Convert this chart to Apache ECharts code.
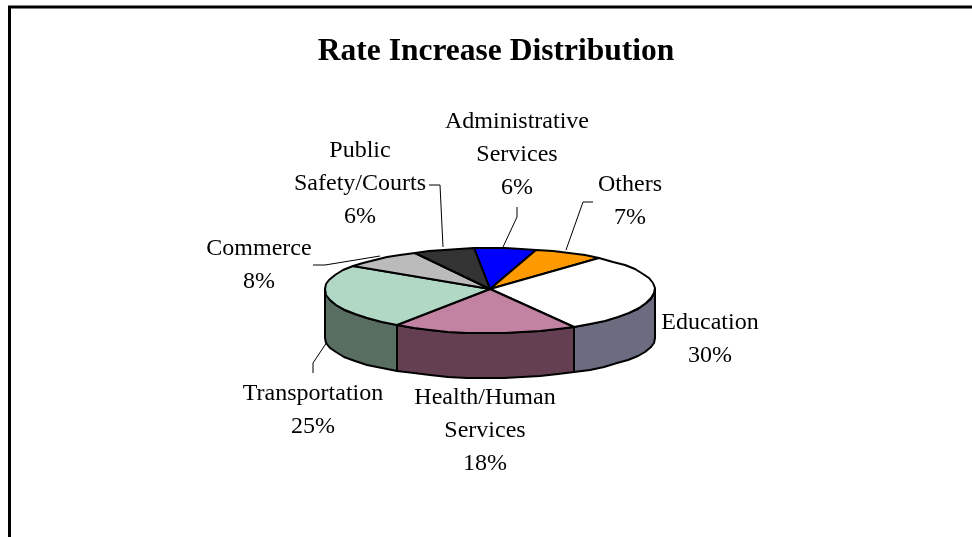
<!DOCTYPE html>
<html>
<head>
<meta charset="utf-8">
<style>html,body{margin:0;padding:0;background:#fff}#chart{width:972px;height:537px}</style>
<script src="https://cdn.jsdelivr.net/npm/echarts@6/dist/echarts.min.js"></script>
</head>
<body>
<div id="chart"></div>
<script>
// Budget shares, clockwise from the top of the pie
const categories = ['Administrative\nServices', 'Others', 'Education', 'Health/Human\nServices', 'Transportation', 'Commerce', 'Public\nSafety/Courts'];
const shares = [6, 7, 30, 18, 25, 8, 6];
const topColors = ['#0000FF', '#FF9900', '#FFFFFF', '#C283A3', '#B0D8C4', '#BBBBBB', '#333333'];
const sideColors = ['#00007F', '#7F4C00', '#6C6C80', '#643F52', '#586E60', '#5E5E5E', '#1A1A1A'];

// Pie layout in pixels: the rim is flatter behind the centre than in front of it,
// and the lower rim is a slightly flatter ellipse than the upper one
const CX = 490, CY = 289, RX = 165, RY_BACK = 41, RY_FRONT = 44;
const FLOOR_CY = 338, FLOOR_RY = 40, START = -5.5, STEP = 7;

// Label anchors and leader polylines, in the same order as the categories
const labelCenters = [[517, 121], [630, 184], [710, 322], [485, 397], [313, 393], [259, 248], [360, 150]];
const leaders = [
  [[503, 247], [517, 217], [517, 207]],
  [[566, 250], [583, 202], [593, 202]],
  null,
  null,
  [[327, 342], [313, 363], [313, 373]],
  [[380, 256], [325, 265], [313, 265]],
  [[443, 247], [440, 185], [429, 185]]
];

const FONT = '"Liberation Serif", "Times New Roman", serif';
const total = shares.reduce((a, b) => a + b, 0);

// Start and end angle (degrees clockwise from the top) of slice i
function sliceAngles(i) {
  let before = 0;
  for (let k = 0; k < i; k++) before += shares[k];
  const toAngle = v => echarts.number.linearMap(v, [0, total], [START, START + 360]);
  return [toAngle(before), toAngle(before + shares[i])];
}
function rimPoint(deg) {
  const r = deg * Math.PI / 180, c = Math.cos(r);
  return [Math.round(CX + RX * Math.sin(r)), Math.round(CY - (c > 0 ? RY_BACK : RY_FRONT) * c)];
}
function floorPoint(deg) {
  const r = deg * Math.PI / 180;
  return [Math.round(CX + RX * Math.sin(r)), Math.round(FLOOR_CY - FLOOR_RY * Math.cos(r))];
}
function arcPoints(a0, a1, pointAt) {
  const pts = [];
  const n = Math.max(1, Math.ceil((a1 - a0) / STEP));
  for (let j = 0; j <= n; j++) pts.push(pointAt(a0 + (a1 - a0) * j / n));
  return pts;
}

const option = {
  animation: false,
  backgroundColor: '#fff',
  title: {
    text: 'Rate Increase Distribution',
    left: 491, top: 31, textAlign: 'center',
    textStyle: { fontFamily: FONT, fontSize: 31.5, fontWeight: 'bold', color: '#000' }
  },
  graphic: [{
    type: 'polyline', silent: true,
    shape: { points: [[9.5, 537], [9.5, 7], [972, 7]] },
    style: { stroke: '#000', lineWidth: 3, fill: null }
  }],
  series: [
    {
      // Visible outer wall: only the part of each slice on the near half of the rim
      type: 'custom', coordinateSystem: 'none', z: 2,
      data: shares.map((v, i) => [v, i]),
      renderItem(params, api) {
        const i = api.value(1);
        const [a0, a1] = sliceAngles(i);
        const lo = Math.max(a0, 90), hi = Math.min(a1, 270);
        if (hi <= lo) return { type: 'group', children: [] };
        const top = arcPoints(lo, hi, rimPoint), bottom = arcPoints(lo, hi, floorPoint).reverse();
        return {
          type: 'polygon',
          shape: { points: top.concat(bottom) },
          style: { fill: sideColors[i], stroke: '#000', lineWidth: 2, lineJoin: 'round' }
        };
      }
    },
    {
      // Top face wedges
      type: 'custom', coordinateSystem: 'none', z: 3,
      data: shares.map((v, i) => [v, i]),
      renderItem(params, api) {
        const i = api.value(1);
        const [a0, a1] = sliceAngles(i);
        return {
          type: 'polygon',
          shape: { points: [[CX, CY]].concat(arcPoints(a0, a1, rimPoint)) },
          style: { fill: topColors[i], stroke: '#000', lineWidth: 2, lineJoin: 'round' }
        };
      }
    },
    {
      // Category labels with their percentages, plus leader lines
      type: 'custom', coordinateSystem: 'none', z: 4,
      data: shares.map((v, i) => [v, i]),
      renderItem(params, api) {
        const i = api.value(1);
        const children = [{
          type: 'text',
          style: {
            x: labelCenters[i][0],
            y: labelCenters[i][1] - 16,
            text: categories[i] + '\n' + api.value(0) + '%',
            align: 'center', verticalAlign: 'top',
            fontFamily: FONT, fontSize: 24, lineHeight: 33, fill: '#000'
          }
        }];
        if (leaders[i]) children.push({
          type: 'polyline',
          shape: { points: leaders[i] },
          style: { stroke: '#000', lineWidth: 1, fill: null }
        });
        return { type: 'group', children };
      }
    }
  ]
};

const chart = echarts.init(document.getElementById('chart'));
chart.setOption(option);
</script>
</body>
</html>
